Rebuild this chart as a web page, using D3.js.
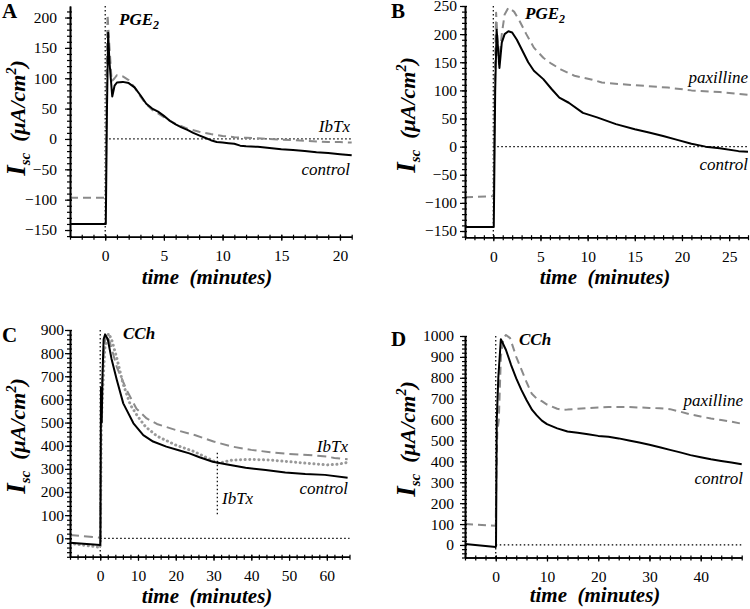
<!DOCTYPE html>
<html><head><meta charset="utf-8">
<script src="https://cdn.jsdelivr.net/npm/d3@7"></script>
<style>
body{margin:0;background:#fff}
svg, svg text{font-family:"Liberation Serif","Tinos","Times New Roman","DejaVu Serif",serif}
</style>
</head><body><svg id="c" width="750" height="609"></svg>
<script>
// ---------- Panel A (PGE2, IbTx) ----------
const A_time_control = [-3,0,0.05,0.15,0.25,0.35,0.6,0.8,1.0,1.5,2.0,2.5,3.0,3.5,4.0,4.5,5.0,5.5,6.0,6.5,7.0,7.5,8.0,8.5,9.0,9.5,10,10.5,11,11.5,12,13,14,15,16,17,18,19,20,21];
const A_control = [-140,-140,-140,50,175,130,70,88,93,94,92,85,72,58,50,45,38,30,24,19,15,10,6,2,-2,-5,-6,-7,-8,-11,-12,-13,-15,-17,-18,-20,-22,-23,-25,-27];
const A_time_ibtx = [-3,0,0.05,0.12,0.2,0.3,0.55,0.8,1.0,1.5,2.0,2.5,3.0,3.5,4.0,4.5,5.0,5.5,6.0,6.5,7.0,8.0,9.0,10,11,12,13,14,15,16,17,18,19,20,21];
const A_ibtx = [-97,-97,-90,100,205,170,95,100,105,103,97,85,70,57,48,42,36,30,25,21,17,12,8,5,3,2,1,0,-1,-2,-3,-4,-5,-5,-6];
const A_xticks = [0,5,10,15,20];
const A_yticks = [-150,-100,-50,0,50,100,150,200];

// ---------- Panel B (PGE2, paxilline) ----------
const B_time_control = [-3,0,0.05,0.2,0.35,0.5,0.65,0.9,1.2,1.6,2.0,2.5,3.1,3.7,4.3,5.3,6.2,7.0,8.0,9.5,11,13,15,16.5,18,19.5,21,22.5,24,26,27];
const B_control = [-143,-143,-143,100,208,175,140,185,200,205,203,190,170,150,135,120,102,87,78,60,52,40,31,25,19,12,5,0,-3,-8,-9];
const B_time_pax = [-3,0,0.05,0.15,0.3,0.45,0.6,0.9,1.2,1.6,2.2,2.8,3.5,4.3,5.3,6.2,7.2,8.6,10.5,11.5,14.3,18.5,21,24,27];
const B_pax = [-90,-88,-85,120,238,190,147,200,235,247,240,223,200,176,158,147,137,126,119,114,110,105,100,97,92];
const B_xticks = [0,5,10,15,20,25];
const B_yticks = [-150,-100,-50,0,50,100,150,200,250];

// ---------- Panel C (CCh, IbTx) ----------
const C_time_control = [-8,0,0.05,0.2,0.4,0.6,0.9,1.3,2.0,3.0,4.4,6.1,8.8,11.4,14,17.5,21,23.6,26.3,29.8,33.3,38.5,43.8,49,54.3,59.5,65.5];
const C_control = [-19,-29,-20,650,500,700,860,881,860,775,684,583,497,446,418,396,379,367,350,331,320,305,295,284,278,274,262];
const C_time_ibtx = [-8,0,0.05,0.3,0.6,1.0,1.5,2.5,4.4,7.0,9.6,12.3,15,20,25,30,35,40,45,50,55,60,62,65.5];
const C_ibtx = [14,3,10,600,700,820,880,850,740,640,560,518,494,468,446,418,396,382,372,364,360,353,347,341];
const C_time_ibtxLate = [-8,0,0.05,0.3,0.7,1.2,2.2,3.0,4.4,6.0,8,10,12,15,20,25,30,31.5,33,35,40,45,50,55,60,63,65.5];
const C_ibtxLate = [-22,-39,-30,500,650,820,885,860,778,670,576,525,482,442,403,374,334,324,331,338,341,338,331,324,317,320,328];
const C_ibtxAddTime = [31];
const C_ibtxAddRange = [100,370];
const C_xticks = [0,10,20,30,40,50,60];
const C_yticks = [0,100,200,300,400,500,600,700,800,900];

// ---------- Panel D (CCh, paxilline) ----------
const D_time_control = [-6,0,0.05,0.2,0.5,1.0,2.0,3.0,4.0,5.0,6.0,7.1,8.0,9.0,10,12,14,16,18,20,22,24,26,28,30,32,34,36,38,40,42,44,46,48];
const D_control = [5,-10,-5,598,800,985,933,861,797,742,694,646,620,595,578,558,543,537,530,522,518,510,500,490,480,468,455,443,430,420,410,402,395,386];
const D_time_pax = [-6,0,0.1,0.3,0.6,1.0,1.5,2.0,2.8,4.0,5.0,6.0,7.0,8.0,9.0,10,12,13,14,16,18,20,22,24,26,28,30,32,34,36,38,40,42,44,46,48];
const D_pax = [100,92,300,540,600,900,990,1005,990,900,840,780,725,700,688,672,652,647,648,652,655,658,660,660,660,658,656,654,650,638,625,615,605,598,590,580];
const D_xticks = [0,10,20,30,40];
const D_yticks = [0,100,200,300,400,500,600,700,800,900,1000];

const FONT = "'Liberation Serif','Tinos','Times New Roman','DejaVu Serif',serif";
const svg = d3.select("#c");
const BLACK = "#000", GRAY = "#8a8a8a", DOTGRAY = "#999";

function panel(cfg){
  const g = svg.append("g").attr("font-family", FONT);
  const x = d3.scaleLinear().domain(cfg.xd).range(cfg.xr);
  const y = d3.scaleLinear().domain(cfg.yd).range(cfg.yr);

  g.append("line").attr("x1", x(0)).attr("x2", x(cfg.xd[1])).attr("y1", y(0)).attr("y2", y(0))
    .attr("stroke", BLACK).attr("stroke-width", 1.2).attr("stroke-dasharray", "1.5,2.5");
  g.append("line").attr("x1", x(0)).attr("x2", x(0)).attr("y1", y(cfg.yd[1])).attr("y2", y(cfg.yd[0]))
    .attr("stroke", BLACK).attr("stroke-width", 1.2).attr("stroke-dasharray", "1.5,2.5");

  const line = d3.line().x(d => x(d[0])).y(d => y(d[1]));
  cfg.series.forEach(s => {
    g.append("path").datum(d3.zip(s.t, s.v)).attr("d", line)
      .attr("fill", "none").attr("stroke", s.color).attr("stroke-width", s.w)
      .attr("stroke-dasharray", s.dash || null).attr("stroke-linecap", s.cap || "butt")
      .attr("stroke-linejoin", "round");
  });
  if (cfg.extra) cfg.extra(g, x, y);

  const fmt = d3.format("d");
  const xa = g.append("g").attr("transform", `translate(0,${cfg.yr[0]})`);
  xa.append("g").call(d3.axisBottom(x).tickValues(d3.range(Math.ceil(cfg.xd[0]/cfg.xminor)*cfg.xminor, cfg.xd[1]+1e-9, cfg.xminor)).tickSize(3).tickSizeOuter(0).tickFormat(""));
  xa.append("g").call(d3.axisBottom(x).tickValues(cfg.xticks).tickSize(4).tickSizeOuter(0).tickPadding(cfg.xpad).tickFormat(fmt));
  xa.selectAll(".tick line").attr("y1", -2);
  const ya = g.append("g").attr("transform", `translate(${cfg.xr[0]},0)`);
  ya.append("g").call(d3.axisLeft(y).tickValues(d3.range(Math.ceil(cfg.yd[0]/cfg.yminor)*cfg.yminor, cfg.yd[1]+1e-9, cfg.yminor)).tickSize(3).tickSizeOuter(0).tickFormat(""));
  ya.append("g").call(d3.axisLeft(y).tickValues(cfg.yticks).tickSize(5).tickSizeOuter(0).tickPadding(cfg.ypad).tickFormat(fmt));
  ya.selectAll(".tick line").attr("x1", 2);
  g.selectAll(".domain").attr("stroke", BLACK).attr("stroke-width", 1.6);
  g.selectAll(".tick line").attr("stroke", BLACK).attr("stroke-width", 1.2);
  g.selectAll("g").filter(function(){ return this.getAttribute("font-family"); }).attr("font-family", FONT);
  g.selectAll(".tick text").attr("font-family", FONT).attr("font-size", 15.5).attr("fill", BLACK);

  g.append("text").attr("x", cfg.xtitle[0]).attr("y", cfg.xtitle[1]).attr("text-anchor", "middle")
    .attr("font-family", FONT).attr("font-size", 21).attr("font-weight", "bold").attr("font-style", "italic")
    .style("white-space", "pre").text("time  (minutes)");
  const yt = g.append("text").attr("transform", `translate(${cfg.ytitle[0]},${cfg.ytitle[1]}) rotate(-90)`)
    .attr("text-anchor", "middle").attr("font-weight", "bold").attr("font-style", "italic")
    .attr("font-family", FONT).attr("font-size", 22).style("white-space", "pre");
  yt.append("tspan").attr("font-size", 27).text("I");
  yt.append("tspan").attr("font-size", 15).attr("dy", 5).text("sc");
  yt.append("tspan").attr("dy", -5).text("  (\u03bcA/cm");
  yt.append("tspan").attr("font-size", 14).attr("dy", -9).text("2");
  yt.append("tspan").attr("dy", 9).text(")");
  g.append("text").attr("x", cfg.letter[0]).attr("y", cfg.letter[1]).attr("font-size", 21)
    .attr("font-family", FONT).attr("font-weight", "bold").text(cfg.letterText);
  const st = g.append("text").attr("x", cfg.stim[0]).attr("y", cfg.stim[1]).attr("font-size", 17)
    .attr("font-family", FONT).attr("font-weight", "bold").attr("font-style", "italic");
  st.append("tspan").text(cfg.stimText);
  if (cfg.stimSub) st.append("tspan").attr("font-size", 12).attr("dy", 4).text(cfg.stimSub);
  cfg.labels.forEach(l => {
    g.append("text").attr("x", l[0]).attr("y", l[1]).attr("text-anchor", l[3] || "end")
      .attr("font-family", FONT).attr("font-size", 17).attr("font-style", "italic").text(l[2]);
  });
}

panel({
  xd: [-3, 21], xr: [70, 351.7], yd: [-161, 219], yr: [236.7, 6],
  xticks: A_xticks, yticks: A_yticks, xminor: 1, yminor: 10, xpad: 9, ypad: 8,
  xtitle: [207, 284], ytitle: [25, 118], letter: [2, 18], letterText: "A",
  stim: [119, 25], stimText: "PGE", stimSub: "2",
  labels: [[350, 132, "IbTx"], [350, 175, "control"]],
  series: [
    {t: A_time_ibtx, v: A_ibtx, color: GRAY, w: 2, dash: "8,5"},
    {t: A_time_control, v: A_control, color: BLACK, w: 2}
  ]
});
panel({
  xd: [-3, 27], xr: [465, 748], yd: [-161, 250], yr: [237.2, 6],
  xticks: B_xticks, yticks: B_yticks, xminor: 1, yminor: 10, xpad: 10, ypad: 3,
  xtitle: [605, 284], ytitle: [415, 115], letter: [391, 18], letterText: "B",
  stim: [525, 19], stimText: "PGE", stimSub: "2",
  labels: [[748, 83, "paxilline"], [748, 170, "control"]],
  series: [
    {t: B_time_pax, v: B_pax, color: GRAY, w: 2, dash: "8,5"},
    {t: B_time_control, v: B_control, color: BLACK, w: 2}
  ]
});
panel({
  xd: [-8, 66], xr: [70, 349.5], yd: [-80, 900], yr: [556.8, 330],
  xticks: C_xticks, yticks: C_yticks, xminor: 2, yminor: 20, xpad: 9, ypad: 1,
  xtitle: [207, 603], ytitle: [25, 436], letter: [2, 342], letterText: "C",
  stim: [123, 339], stimText: "CCh",
  labels: [[348, 452, "IbTx"], [348, 494, "control"], [222, 504, "IbTx", "start"]],
  series: [
    {t: C_time_ibtx, v: C_ibtx, color: GRAY, w: 2, dash: "9,5"},
    {t: C_time_ibtxLate, v: C_ibtxLate, color: DOTGRAY, w: 3, dash: "0.1,4.5", cap: "round"},
    {t: C_time_control, v: C_control, color: BLACK, w: 2}
  ],
  extra: (g, x, y) => {
    g.append("line").attr("x1", x(C_ibtxAddTime[0])).attr("x2", x(C_ibtxAddTime[0]))
      .attr("y1", y(C_ibtxAddRange[1])).attr("y2", y(C_ibtxAddRange[0]))
      .attr("stroke", BLACK).attr("stroke-width", 1.2).attr("stroke-dasharray", "1.5,2.5");
  }
});
panel({
  xd: [-6, 48], xr: [465, 741.7], yd: [-60, 1000], yr: [557.5, 336],
  xticks: D_xticks, yticks: D_yticks, xminor: 2, yminor: 20, xpad: 9, ypad: 6,
  xtitle: [595, 602], ytitle: [415, 439], letter: [391, 346], letterText: "D",
  stim: [519, 345], stimText: "CCh",
  labels: [[743, 406, "paxilline"], [743, 484, "control"]],
  series: [
    {t: D_time_pax, v: D_pax, color: GRAY, w: 2, dash: "8,5"},
    {t: D_time_control, v: D_control, color: BLACK, w: 2}
  ]
});
</script></body></html>
